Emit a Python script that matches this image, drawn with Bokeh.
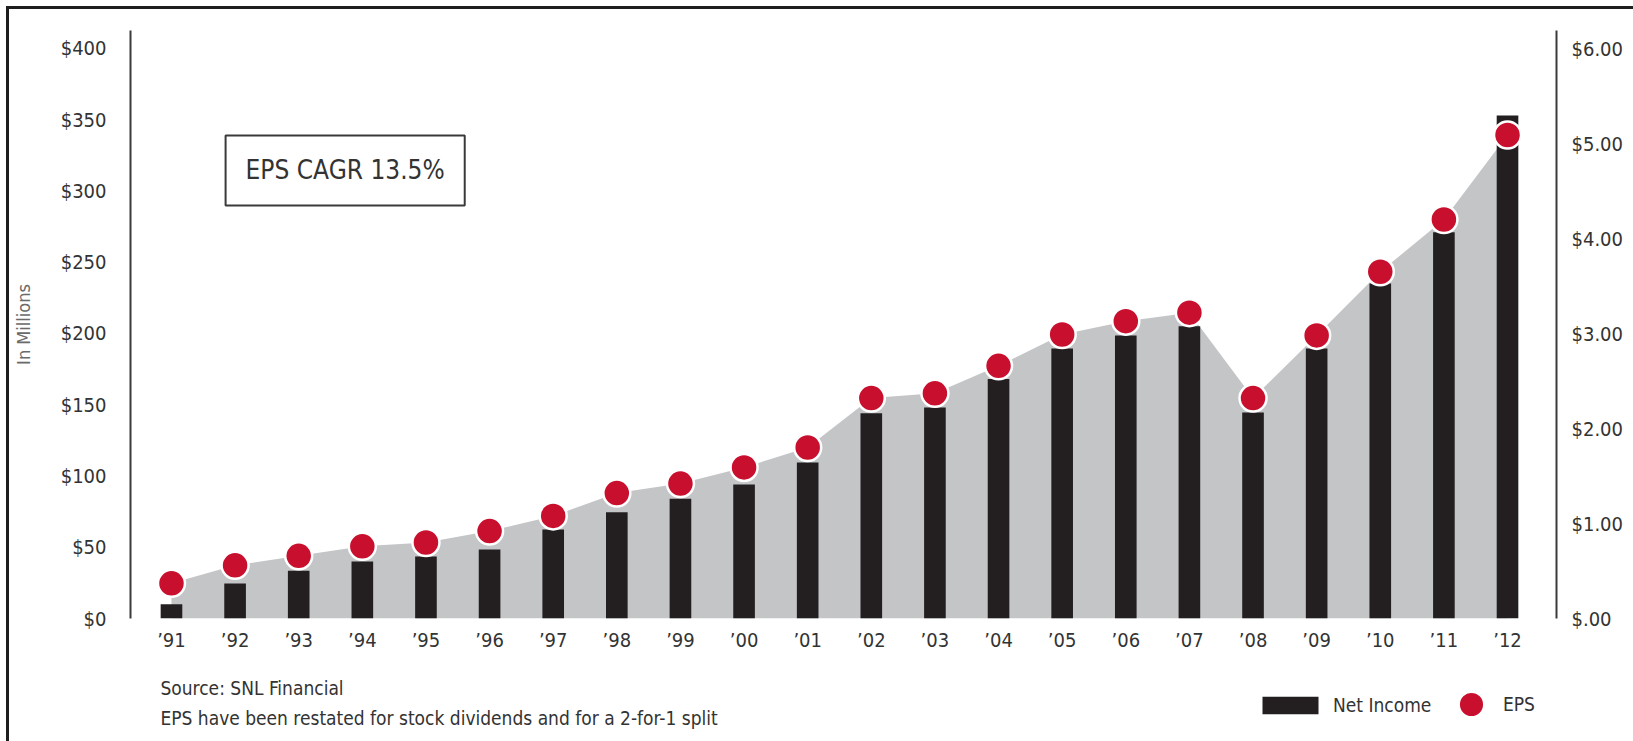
from bokeh.plotting import figure
from bokeh.layouts import column
from bokeh.models import (Range1d, LinearAxis, FixedTicker, Label, Legend,
                          LegendItem, ColumnDataSource)
from bokeh.embed import file_html
from bokeh.resources import INLINE

# ---------------- data ----------------
years = ["’91", "’92", "’93", "’94", "’95", "’96", "’97", "’98", "’99", "’00", "’01",
         "’02", "’03", "’04", "’05", "’06", "’07", "’08", "’09", "’10", "’11", "’12"]
net_income = [10, 24.5, 33.5, 40, 43.5, 48.5, 62.5, 74.5, 84, 94, 109.5,
              144, 148, 168, 189.5, 198.5, 205, 144.5, 189.5, 235, 271, 353]
eps = [0.37, 0.56, 0.66, 0.76, 0.80, 0.92, 1.08, 1.32, 1.42, 1.59, 1.80,
       2.32, 2.37, 2.66, 2.99, 3.13, 3.22, 2.32, 2.98, 3.65, 4.20, 5.09]
left_ticks = [0, 50, 100, 150, 200, 250, 300, 350, 400]
left_tick_labels = ["$0", "$50", "$100", "$150", "$200", "$250", "$300", "$350", "$400"]
right_ticks = [0, 1, 2, 3, 4, 5, 6]
right_tick_labels = ["$.00", "$1.00", "$2.00", "$3.00", "$4.00", "$5.00", "$6.00"]
left_title = "In Millions"
cagr_text = "EPS CAGR 13.5%"
source_text = "Source: SNL Financial"
note_text = "EPS have been restated for stock dividends and for a 2-for-1 split"
legend_labels = ["Net Income", "EPS"]

FONT = "DejaVu Sans Condensed"
TXT = "#333333"
BAR_COLOR = "#231f20"
DOT_COLOR = "#c8102e"

idx = list(range(len(years)))
src = ColumnDataSource(dict(x=idx, ni=net_income, eps=eps))

# ---------------- main chart ----------------
p = figure(width=1624, height=652,
           x_range=Range1d(-0.644, 21.77), y_range=Range1d(0, 412.6),
           output_backend="svg", toolbar_location=None,
           min_border_left=119, min_border_right=77,
           min_border_top=21, min_border_bottom=43)
p.extra_y_ranges = {"eps": Range1d(0, 6.19)}
p.outline_line_color = None
p.xgrid.visible = False
p.ygrid.visible = False

p.varea(x="x", y1=0, y2="eps", source=src, y_range_name="eps",
        fill_color="#c4c5c7")
p.vbar(x="x", top="ni", width=0.34, source=src,
       fill_color=BAR_COLOR, line_color=None)
p.scatter(x="x", y="eps", size=27, source=src, y_range_name="eps",
          fill_color=DOT_COLOR, line_color="white", line_width=2.5)

la = p.yaxis[0]
la.ticker = FixedTicker(ticks=left_ticks)
la.major_label_overrides = dict(zip(left_ticks, left_tick_labels))
la.axis_label = left_title
la.axis_label_text_font = FONT
la.axis_label_text_font_size = "18px"
la.axis_label_text_font_style = "normal"
la.axis_label_text_color = "#6a6a6a"
la.axis_label_standoff = 24

ra = LinearAxis(y_range_name="eps", ticker=FixedTicker(ticks=right_ticks))
ra.major_label_overrides = dict(zip(right_ticks, right_tick_labels))
p.add_layout(ra, "right")

for ax in (la, ra):
    ax.axis_line_color = "#3a3a3a"
    ax.axis_line_width = 2
    ax.major_tick_line_color = None
    ax.minor_tick_line_color = None
    ax.major_tick_out = 0
    ax.minor_tick_out = 0
    ax.major_tick_in = 0
    ax.major_label_text_font = FONT
    ax.major_label_text_font_size = "20px"
    ax.major_label_text_color = TXT
la.major_label_standoff = 24
ra.major_label_standoff = 15

xa = p.xaxis[0]
xa.ticker = FixedTicker(ticks=idx)
xa.major_label_overrides = dict(zip(idx, years))
xa.axis_line_color = None
xa.major_tick_line_color = None
xa.minor_tick_line_color = None
xa.major_tick_out = 0
xa.major_tick_in = 0
xa.major_label_standoff = 9
xa.major_label_text_font = FONT
xa.major_label_text_font_size = "20px"
xa.major_label_text_color = TXT

p.add_layout(Label(x=2.73, y=314.4, text=cagr_text, text_align="center",
                   text_baseline="middle", text_font=FONT, text_font_size="26px",
                   text_color=TXT, border_line_color="#3a3a3a", border_line_width=2,
                   background_fill_color="white", padding=(20, 20)))

# ---------------- footer (notes + legend) ----------------
# footer frame is aligned with the chart frame; its x range is in page pixels
f = figure(width=1624, height=80, x_range=Range1d(128, 1556), y_range=Range1d(80, 0),
           x_axis_type=None, y_axis_type=None, output_backend="svg",
           toolbar_location=None, min_border_left=119, min_border_right=77,
           min_border_top=0, min_border_bottom=0)
f.outline_line_color = None
f.grid.visible = False
# legend keys live on ranges of their own, far away from the visible footer area
f.extra_x_ranges = {"keys": Range1d(5000, 6000)}
f.extra_y_ranges = {"keys": Range1d(5000, 6000)}

f.add_layout(Label(x=158, y=26, text=source_text, text_align="left",
                   text_baseline="middle", text_font=FONT, text_font_size="19px",
                   text_color=TXT))
f.add_layout(Label(x=158, y=56, text=note_text, text_align="left",
                   text_baseline="middle", text_font=FONT, text_font_size="19px",
                   text_color=TXT))

key_bar = f.vbar(x="x", top="ni", width=0.34, source=src,
                 x_range_name="keys", y_range_name="keys",
                 fill_color=BAR_COLOR, line_color=None)
key_dot = f.scatter(x="x", y="eps", size=27, source=src,
                    x_range_name="keys", y_range_name="keys",
                    fill_color=DOT_COLOR, line_color="white", line_width=2.5)

common = dict(padding=0, margin=0, border_line_color=None, background_fill_alpha=0,
              label_text_font=FONT, label_text_font_size="19px",
              label_text_color=TXT, label_height=22)
f.add_layout(Legend(items=[LegendItem(label=legend_labels[0], renderers=[key_bar])],
                    location=(1125, 25), glyph_width=70, glyph_height=22,
                    label_standoff=8, **common))
f.add_layout(Legend(items=[LegendItem(label=legend_labels[1], renderers=[key_dot])],
                    location=(1309, 5), glyph_width=64, glyph_height=64,
                    label_standoff=0, **common))

lay = column(p, f, spacing=0)
lay.styles = {"margin-left": "6px", "margin-top": "6px",
              "border-left": "3px solid #1e1e1e", "border-top": "3px solid #1e1e1e"}

open("out.html", "w").write(file_html(lay, INLINE))
